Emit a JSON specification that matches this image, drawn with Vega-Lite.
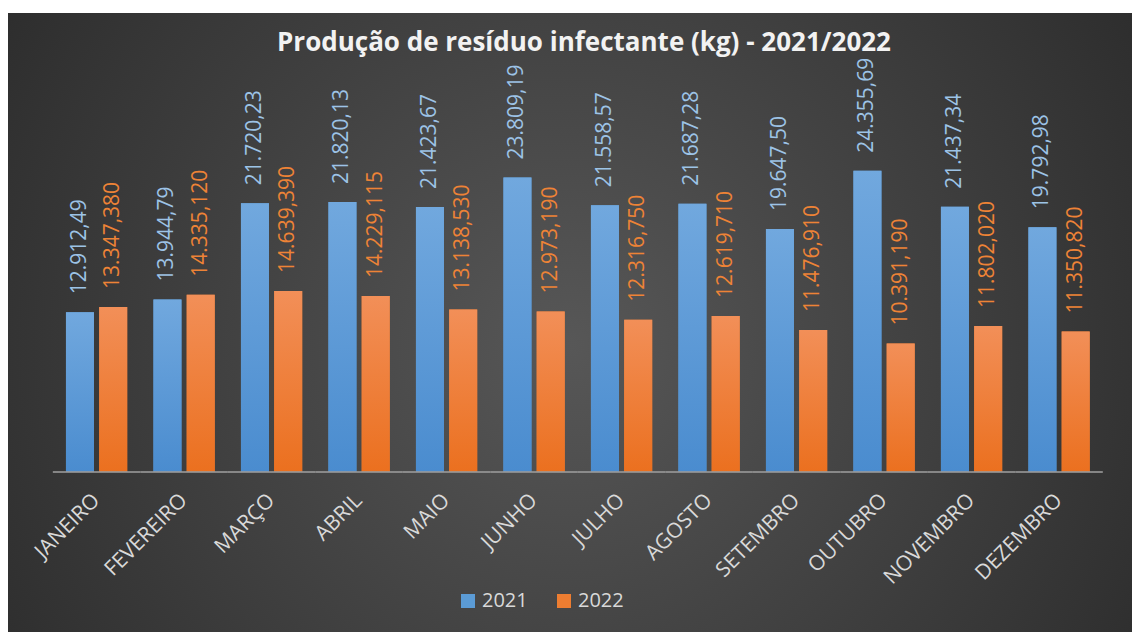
{
  "$schema": "https://vega.github.io/schema/vega-lite/v6.json",
  "width": 1124,
  "height": 619,
  "autosize": {"type": "none"},
  "padding": {"left": 8, "top": 13, "right": 0, "bottom": 0},
  "background": "white",
  "config": {
    "view": {
      "stroke": null,
      "fill": {"gradient": "radial", "x1": 0.5, "y1": 0.52, "x2": 0.5, "y2": 0.52, "r1": 0, "r2": 0.72,
        "stops": [{"offset": 0, "color": "#575757"}, {"offset": 1, "color": "#242424"}]}
    },
    "locale": {"number": {"decimal": ",", "thousands": ".", "grouping": [3], "currency": ["R$", ""]}}
  },
  "title": {
    "text": "Produção de resíduo infectante (kg) - 2021/2022",
    "font": "Open Sans",
    "fontSize": 26,
    "fontWeight": "bold",
    "color": "#f2f2f2",
    "anchor": "middle",
    "baseline": "middle",
    "offset": 0,
    "dx": 14,
    "dy": 56
  },
  "data": {
    "values": [
      {"mes": "JANEIRO", "ano": "2021", "valor": 12912.49},
      {"mes": "JANEIRO", "ano": "2022", "valor": 13347.38},
      {"mes": "FEVEREIRO", "ano": "2021", "valor": 13944.79},
      {"mes": "FEVEREIRO", "ano": "2022", "valor": 14335.12},
      {"mes": "MARÇO", "ano": "2021", "valor": 21720.23},
      {"mes": "MARÇO", "ano": "2022", "valor": 14639.39},
      {"mes": "ABRIL", "ano": "2021", "valor": 21820.13},
      {"mes": "ABRIL", "ano": "2022", "valor": 14229.115},
      {"mes": "MAIO", "ano": "2021", "valor": 21423.67},
      {"mes": "MAIO", "ano": "2022", "valor": 13138.53},
      {"mes": "JUNHO", "ano": "2021", "valor": 23809.19},
      {"mes": "JUNHO", "ano": "2022", "valor": 12973.19},
      {"mes": "JULHO", "ano": "2021", "valor": 21558.57},
      {"mes": "JULHO", "ano": "2022", "valor": 12316.75},
      {"mes": "AGOSTO", "ano": "2021", "valor": 21687.28},
      {"mes": "AGOSTO", "ano": "2022", "valor": 12619.71},
      {"mes": "SETEMBRO", "ano": "2021", "valor": 19647.5},
      {"mes": "SETEMBRO", "ano": "2022", "valor": 11476.91},
      {"mes": "OUTUBRO", "ano": "2021", "valor": 24355.69},
      {"mes": "OUTUBRO", "ano": "2022", "valor": 10391.19},
      {"mes": "NOVEMBRO", "ano": "2021", "valor": 21437.34},
      {"mes": "NOVEMBRO", "ano": "2022", "valor": 11802.02},
      {"mes": "DEZEMBRO", "ano": "2021", "valor": 19792.98},
      {"mes": "DEZEMBRO", "ano": "2022", "valor": 11350.82}
    ]
  },
  "encoding": {
    "x": {
      "field": "mes",
      "type": "nominal",
      "sort": ["JANEIRO", "FEVEREIRO", "MARÇO", "ABRIL", "MAIO", "JUNHO", "JULHO", "AGOSTO", "SETEMBRO", "OUTUBRO", "NOVEMBRO", "DEZEMBRO"],
      "scale": {"paddingInner": 0.3, "paddingOuter": 0.573, "align": 0.578},
      "axis": {
        "title": null,
        "orient": "bottom",
        "offset": -160,
        "domain": false,
        "ticks": false,
        "labelAngle": -45,
        "labelAlign": "right",
        "labelBaseline": "middle",
        "labelPadding": 25,
        "labelFont": "Open Sans",
        "labelFontSize": 21,
        "labelColor": "#d9d9d9"
      }
    },
    "xOffset": {"field": "ano", "type": "nominal", "scale": {"paddingInner": 0.158, "paddingOuter": 0}},
    "y": {
      "field": "valor",
      "type": "quantitative",
      "scale": {"domain": [-12935, 37106], "nice": false, "zero": false},
      "axis": null
    }
  },
  "layer": [
    {
      "mark": {"type": "bar"},
      "encoding": {
        "color": {
          "field": "ano",
          "type": "nominal",
          "scale": {"range": ["#5B9BD5", "#ED7D31"]},
          "legend": {
            "title": null,
            "orient": "none",
            "legendX": 450,
            "legendY": 578,
            "direction": "horizontal",
            "symbolType": "square",
            "symbolSize": 196,
            "symbolStrokeWidth": 0,
            "labelFont": "Open Sans",
            "labelFontSize": 20,
            "labelColor": "#d9d9d9",
            "labelOffset": 4,
            "columnPadding": 26
          }
        }
      }
    },
    {
      "transform": [{"filter": "datum.ano == '2021'"}],
      "mark": {"type": "bar", "fill": {"gradient": "linear", "x1": 0, "y1": 0, "x2": 0, "y2": 1,
        "stops": [{"offset": 0, "color": "#71A8DE"}, {"offset": 1, "color": "#4A8CCF"}]}}
    },
    {
      "transform": [{"filter": "datum.ano == '2022'"}],
      "mark": {"type": "bar", "fill": {"gradient": "linear", "x1": 0, "y1": 0, "x2": 0, "y2": 1,
        "stops": [{"offset": 0, "color": "#F28F58"}, {"offset": 1, "color": "#EB701F"}]}}
    },
    {
      "transform": [{"filter": "datum.ano == '2021'"}],
      "mark": {"type": "tick", "size": 87.5, "thickness": 2, "color": "#9a9a9a", "opacity": 0.8},
      "encoding": {"y": {"datum": 0}, "xOffset": null}
    },
    {
      "transform": [{"filter": "datum.ano == '2021'"}],
      "mark": {"type": "text", "angle": 270, "align": "left", "baseline": "middle", "dx": 18, "font": "Open Sans", "fontSize": 21, "color": "#9DC3E6"},
      "encoding": {"text": {"field": "valor", "type": "quantitative", "format": ",.2f"}}
    },
    {
      "transform": [{"filter": "datum.ano == '2022'"}],
      "mark": {"type": "text", "angle": 270, "align": "left", "baseline": "middle", "dx": 18, "font": "Open Sans", "fontSize": 21, "color": "#EE8336"},
      "encoding": {"text": {"field": "valor", "type": "quantitative", "format": ",.3f"}}
    }
  ]
}
